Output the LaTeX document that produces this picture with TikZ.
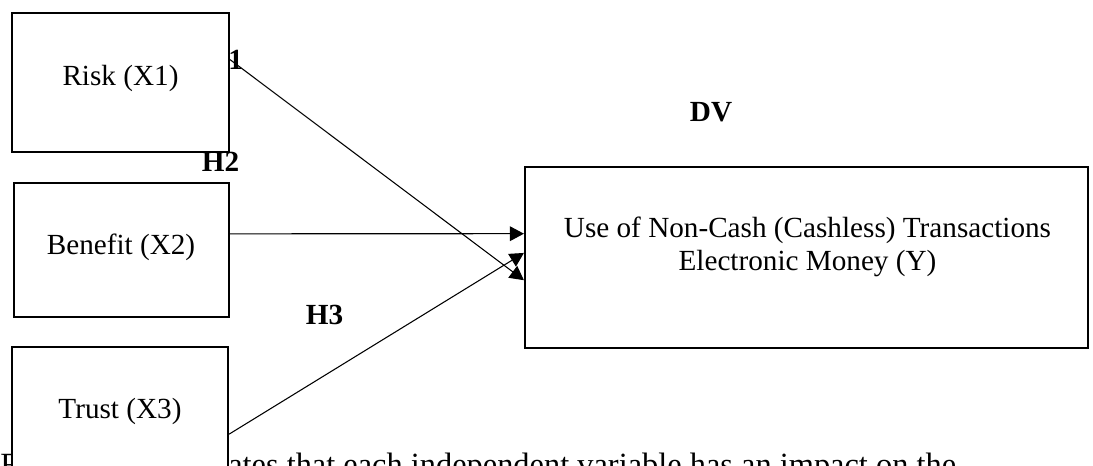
\documentclass[tikz,border=0pt]{standalone}
\usepackage{fontspec}
\setmainfont{Liberation Serif}
\usetikzlibrary{arrows.meta,calc}
\begin{document}
\begin{tikzpicture}[x=0.75pt,y=-0.75pt,
  varbox/.style={draw=black,line width=1.6pt,fill=white,inner sep=0pt},
  hlabel/.style={font=\fontsize{21.9}{24.75}\selectfont\bfseries,inner sep=0pt},
  boxtext/.style={font=\fontsize{21.9}{24.75}\selectfont,inner sep=0pt,align=center},
  captext/.style={font=\fontsize{24.3}{28}\selectfont,inner sep=0pt,anchor=base west},
  link/.style={line width=0.8pt,-{Triangle[length=10.5pt,width=11pt]}}]
\useasboundingbox (0,0) rectangle (1093,465);
\clip (0,0) rectangle (1093,465);

% partially hidden caption and label (drawn first, boxes cover them)
\node[captext] (capF) at (0,475) {F};
\node[captext] (caprest) at (228,475) {ates that each independent variable has an impact on the};
\node[hlabel] (h1) at (224.3,60) {H1};

% boxes
\node[varbox,minimum width=162.75pt,minimum height=104.25pt] (risk) at (120.5,82.5) {};
\node[varbox,minimum width=161.25pt,minimum height=100.5pt] (benefit) at (121.5,250) {};
\node[varbox,minimum width=162pt,minimum height=107.25pt] (trust) at (120,418.5) {};
\node[varbox,minimum width=422.25pt,minimum height=135.75pt] (dv) at (806.5,257.5) {};

% box texts
\node[boxtext] (risktxt) at (120.5,78) {Risk (X1)};
\node[boxtext] (benefittxt) at (121,247) {Benefit (X2)};
\node[boxtext] (trusttxt) at (120,411) {Trust (X3)};
\node[boxtext] (dvtxt) at (807.5,246.5) {Use of Non-Cash (Cashless) Transactions\\Electronic Money (Y)};

% labels
\node[hlabel] (dvlabel) at (711,112.5) {DV};
\node[hlabel] (h2) at (220.5,162) {H2};
\node[hlabel] (h3) at (324.5,315) {H3};

% connector ends
\coordinate (riskout) at ($(risk.north east)!0.338!(risk.south east)$);
\coordinate (benefitout) at ($(benefit.north east)!0.381!(benefit.south east)$);
\coordinate (trustout) at ($(trust.north east)!0.608!(trust.south east)$);
\coordinate (inrisk) at ($(dv.north west)!0.624!(dv.south west)$);
\coordinate (inbenefit) at ($(dv.north west)!0.370!(dv.south west)$);
\coordinate (intrust) at ($(dv.north west)!0.475!(dv.south west)$);

\draw[link] (riskout) -- (inrisk);
\draw[link] (benefitout) -- (inbenefit);
\draw[link] (trustout) -- (intrust);
\end{tikzpicture}
\end{document}
